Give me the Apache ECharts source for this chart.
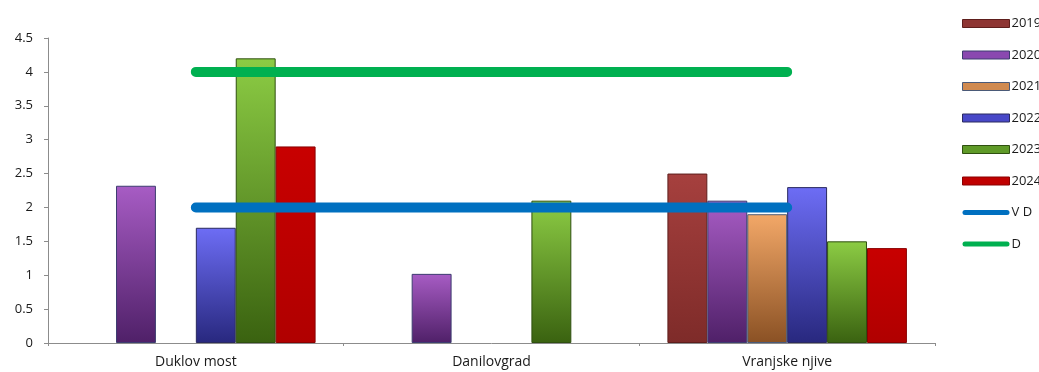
<!DOCTYPE html>
<html><head><meta charset="utf-8">
<script src="https://cdn.jsdelivr.net/npm/echarts@6/dist/echarts.min.js"></script>
<style>html,body{margin:0;padding:0;background:#fff}#c{width:1039px;height:372px}</style>
</head><body><div id="c"></div>
<script>
const categories = ['Duklov most', 'Danilovgrad', 'Vranjske njive'];
const yTicks = [0, 0.5, 1, 1.5, 2, 2.5, 3, 3.5, 4, 4.5];
const s2019 = [null, null, 2.5];
const s2020 = [2.32, 1.02, 2.1];
const s2021 = [null, null, 1.9];
const s2022 = [1.7, null, 2.3];
const s2023 = [4.2, 2.1, 1.5];
const s2024 = [2.9, null, 1.4];
const vd = [2, 2, 2];
const d = [4, 4, 4];

function grad(top, bottom) {
  return new echarts.graphic.LinearGradient(0, 0, 0, 1, [
    {offset: 0, color: top}, {offset: 1, color: bottom}
  ]);
}
const barDefs = [
  {name: '2019', data: s2019, top: '#a6403e', bot: '#7e2b29', border: '#5e1e1c', legend: '#8e3533'},
  {name: '2020', data: s2020, top: '#a75cc4', bot: '#4f2068', border: '#3d3d70', legend: '#8a48b0'},
  {name: '2021', data: s2021, top: '#f3a868', bot: '#8a5124', border: '#4a5a78', legend: '#d08a50'},
  {name: '2022', data: s2022, top: '#6d6df5', bot: '#28287e', border: '#2a2a60', legend: '#4848c8'},
  {name: '2023', data: s2023, top: '#8ccc44', bot: '#3a6210', border: '#2f5010', legend: '#5f9a28'},
  {name: '2024', data: s2024, top: '#c80000', bot: '#b00000', border: '#8a0000', legend: '#c00000'}
];
const series = barDefs.map(b => ({
  name: b.name, type: 'bar', data: b.data,
  barGap: '0%', barCategoryGap: '19%',
  itemStyle: {color: grad(b.top, b.bot), borderColor: b.border, borderWidth: 1}
}));
series.push({
  name: 'V D', type: 'line', data: vd, symbol: 'none', z: 5,
  lineStyle: {color: '#0070c0', width: 10, cap: 'round'}, itemStyle: {color: '#0070c0'}
});
series.push({
  name: 'D', type: 'line', data: d, symbol: 'none', z: 5,
  lineStyle: {color: '#00b050', width: 10, cap: 'round'}, itemStyle: {color: '#00b050'}
});

const pill = 'path://M2.5,0 L44.5,0 A2.5,2.5 0 0 1 44.5,5 L2.5,5 A2.5,2.5 0 0 1 2.5,0 Z';
const legendData = barDefs.map(b => ({name: b.name, icon: 'rect', itemStyle: {color: b.legend, borderColor: b.border, borderWidth: 1}}));
legendData.push({name: 'V D', icon: pill, itemStyle: {color: '#0070c0'}});
legendData.push({name: 'D', icon: pill, itemStyle: {color: '#00b050'}});

const chart = echarts.init(document.getElementById('c'), null, {renderer: 'canvas'});
chart.setOption({
  animation: false,
  textStyle: {fontFamily: 'Open Sans'},
  grid: {left: 48, right: 104, top: 38, bottom: 29, containLabel: false},
  legend: {
    orient: 'vertical', left: 957, top: 12, itemWidth: 47, itemHeight: 8, itemGap: 18.5,
    textStyle: {color: '#1a1a1a', fontSize: 13, fontFamily: 'Open Sans', padding: [0, 0, 0, -3]},
    data: legendData
  },
  xAxis: {
    type: 'category', data: categories,
    axisLine: {lineStyle: {color: '#8c8c8c'}},
    axisTick: {show: true, length: 3, lineStyle: {color: '#8c8c8c'}},
    axisLabel: {color: '#1a1a1a', fontSize: 14, margin: 12}
  },
  yAxis: {
    type: 'value', min: yTicks[0], max: yTicks[yTicks.length - 1], interval: 0.5,
    axisLine: {show: true, lineStyle: {color: '#8c8c8c'}},
    axisTick: {show: true, length: 4, lineStyle: {color: '#8c8c8c'}},
    splitLine: {show: false},
    axisLabel: {color: '#1a1a1a', fontSize: 13, margin: 15}
  },
  series: series
});
</script></body></html>
